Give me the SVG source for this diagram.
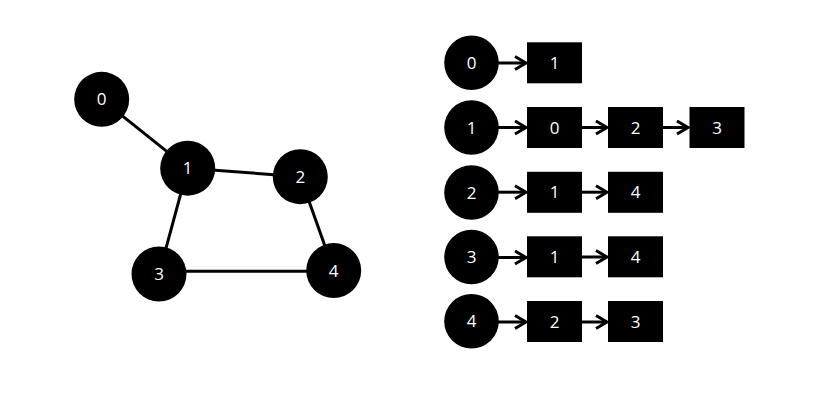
<svg xmlns="http://www.w3.org/2000/svg" width="832" height="393" viewBox="0 0 832 393">
<style>
.n{fill:#000}
.t{fill:#fff;font-family:"Open Sans","Noto Sans",sans-serif;font-size:17px;text-anchor:middle}
.e{stroke:#000;stroke-width:3;fill:none}
.a{stroke:#000;stroke-width:3;fill:none;marker-end:url(#arr)}
</style>
<defs>
<marker id="arr" markerWidth="16" markerHeight="16" refX="13" refY="8" orient="auto" markerUnits="userSpaceOnUse">
<path d="M2,1.5 L13,8 L2,14.5" fill="none" stroke="#000" stroke-width="3"/>
</marker>
</defs>
<rect width="832" height="393" fill="#fff"/>
<g id="edges">
<line class="e" x1="101.7" y1="99.3" x2="187.7" y2="168.2"/>
<line class="e" x1="187.7" y1="168.2" x2="300.3" y2="176.7"/>
<line class="e" x1="187.7" y1="168.2" x2="159" y2="274"/>
<line class="e" x1="300.3" y1="176.7" x2="333.7" y2="270.6"/>
<line class="e" x1="159" y1="271.3" x2="333.7" y2="271.3"/>
</g>
<g id="g0"><circle class="n" cx="101.7" cy="99.3" r="27.5"/><text class="t" x="101.7" y="105.4">0</text></g>
<g id="g1"><circle class="n" cx="187.7" cy="168.2" r="27.5"/><text class="t" x="187.7" y="174.3">1</text></g>
<g id="g2"><circle class="n" cx="300.3" cy="176.7" r="27.5"/><text class="t" x="300.3" y="182.8">2</text></g>
<g id="g3"><circle class="n" cx="159" cy="274" r="27.5"/><text class="t" x="159" y="280.1">3</text></g>
<g id="g4"><circle class="n" cx="333.7" cy="270.6" r="27.5"/><text class="t" x="333.7" y="276.7">4</text></g>
<g id="connectors">
<line class="a" x1="498" y1="63" x2="526" y2="63"/>
<line class="a" x1="498" y1="127.5" x2="526" y2="127.5"/>
<line class="a" x1="582" y1="127.5" x2="607" y2="127.5"/>
<line class="a" x1="663" y1="127.5" x2="688" y2="127.5"/>
<line class="a" x1="498" y1="192.2" x2="526" y2="192.2"/>
<line class="a" x1="582" y1="192.2" x2="607" y2="192.2"/>
<line class="a" x1="498" y1="257.5" x2="526" y2="257.5"/>
<line class="a" x1="582" y1="257" x2="607" y2="257"/>
<line class="a" x1="498" y1="322" x2="526" y2="322"/>
<line class="a" x1="582" y1="322" x2="607" y2="322"/>
</g>
<g id="h0"><circle class="n" cx="471.5" cy="62.8" r="27.3"/><text class="t" x="471.5" y="68.9">0</text></g>
<g id="h1"><circle class="n" cx="471.5" cy="127.5" r="27.3"/><text class="t" x="471.5" y="133.6">1</text></g>
<g id="h2"><circle class="n" cx="471.5" cy="192.5" r="27.3"/><text class="t" x="471.5" y="198.6">2</text></g>
<g id="h3"><circle class="n" cx="471.5" cy="257" r="27.3"/><text class="t" x="471.5" y="263.1">3</text></g>
<g id="h4"><circle class="n" cx="471.5" cy="321.3" r="27.3"/><text class="t" x="471.5" y="327.4">4</text></g>
<g id="r0a"><rect class="n" x="527" y="42.3" width="55" height="41"/><text class="t" x="554.5" y="68.9">1</text></g>
<g id="r1a"><rect class="n" x="527" y="107" width="55" height="41"/><text class="t" x="554.5" y="133.6">0</text></g>
<g id="r1b"><rect class="n" x="608" y="107" width="55" height="41"/><text class="t" x="635.5" y="133.6">2</text></g>
<g id="r1c"><rect class="n" x="689.5" y="107" width="55" height="41"/><text class="t" x="717" y="133.6">3</text></g>
<g id="r2a"><rect class="n" x="527" y="171.8" width="55" height="41"/><text class="t" x="554.5" y="198.4">1</text></g>
<g id="r2b"><rect class="n" x="608" y="171.8" width="55" height="41"/><text class="t" x="635.5" y="198.4">4</text></g>
<g id="r3a"><rect class="n" x="527" y="236.3" width="55" height="41"/><text class="t" x="554.5" y="262.9">1</text></g>
<g id="r3b"><rect class="n" x="608" y="236.3" width="55" height="41"/><text class="t" x="635.5" y="262.9">4</text></g>
<g id="r4a"><rect class="n" x="527" y="301" width="55" height="41"/><text class="t" x="554.5" y="327.6">2</text></g>
<g id="r4b"><rect class="n" x="608" y="301" width="55" height="41"/><text class="t" x="635.5" y="327.6">3</text></g>
</svg>
